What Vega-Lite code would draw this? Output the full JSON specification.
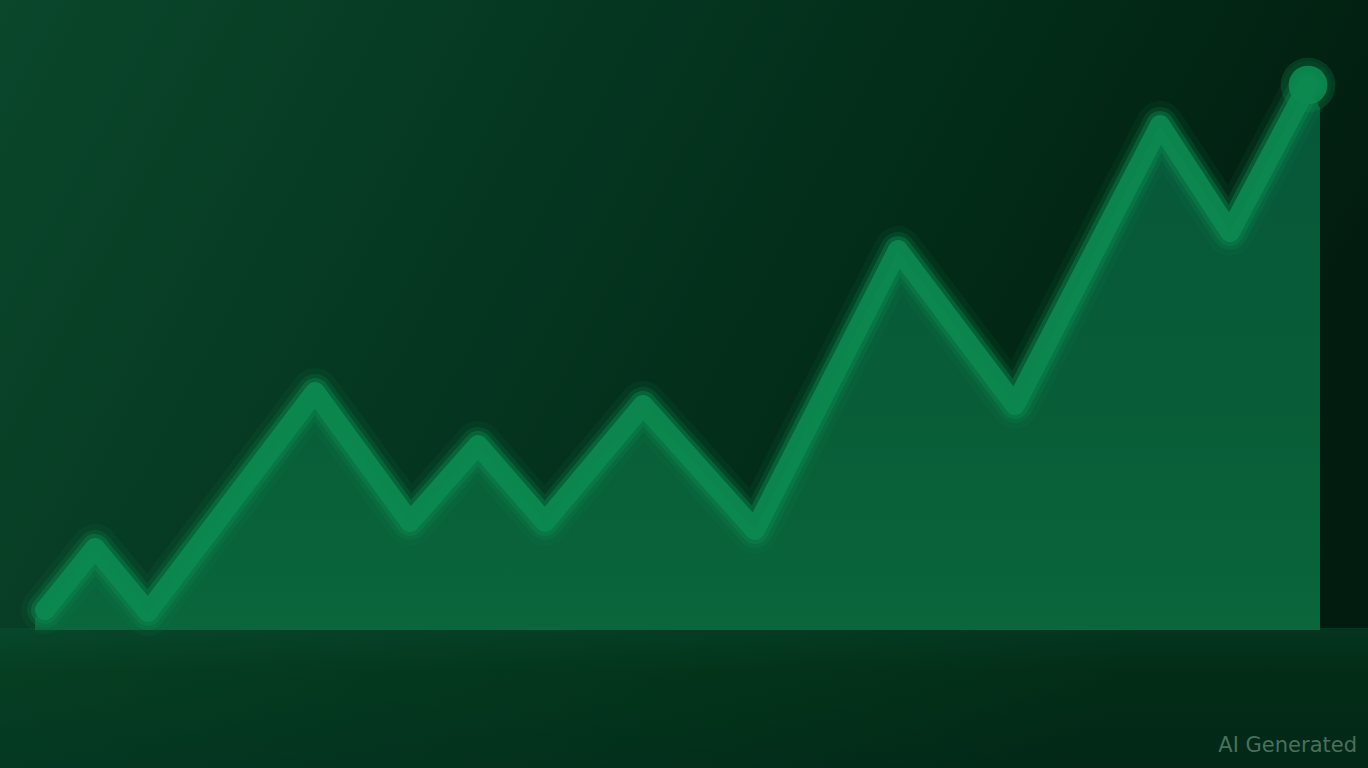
{
  "$schema": "https://vega.github.io/schema/vega-lite/v6.json",
  "width": 1368,
  "height": 768,
  "padding": 0,
  "autosize": {"type": "fit", "contains": "padding"},
  "background": "#03301c",
  "config": {"view": {"stroke": null}},
  "datasets": {
    "series": [
      {"t": 45, "v": 158},
      {"t": 95, "v": 220},
      {"t": 148, "v": 156},
      {"t": 315, "v": 376},
      {"t": 410, "v": 246},
      {"t": 478, "v": 323},
      {"t": 545, "v": 246},
      {"t": 643, "v": 363},
      {"t": 755, "v": 238},
      {"t": 898, "v": 518},
      {"t": 1015, "v": 363},
      {"t": 1160, "v": 643},
      {"t": 1230, "v": 536},
      {"t": 1308, "v": 683}
    ],
    "fill": [
      {"t": 35, "v": 150},
      {"t": 95, "v": 220},
      {"t": 148, "v": 156},
      {"t": 315, "v": 376},
      {"t": 410, "v": 246},
      {"t": 478, "v": 323},
      {"t": 545, "v": 246},
      {"t": 643, "v": 363},
      {"t": 755, "v": 238},
      {"t": 898, "v": 518},
      {"t": 1015, "v": 363},
      {"t": 1160, "v": 643},
      {"t": 1230, "v": 536},
      {"t": 1308, "v": 683},
      {"t": 1320, "v": 660}
    ],
    "backdrop": [
      {"t": 0, "v": 768},
      {"t": 1368, "v": 768}
    ],
    "floor": [
      {"t": 0, "v": 140},
      {"t": 1368, "v": 140}
    ],
    "last": [{"t": 1308, "v": 683}],
    "label": [{"t": 1357, "v": 22, "text": "AI Generated"}]
  },
  "layer": [
    {
      "data": {"name": "backdrop"},
      "mark": {
        "type": "area",
        "color": {
          "x1": 0, "y1": 0, "x2": 1, "y2": 0.3,
          "gradient": "linear",
          "stops": [
            {"offset": 0, "color": "#0a472b"},
            {"offset": 0.5, "color": "#04331e"},
            {"offset": 0.75, "color": "#022a16"},
            {"offset": 1, "color": "#021d10"}
          ]
        }
      },
      "encoding": {
        "x": {"field": "t", "type": "quantitative", "scale": {"domain": [0, 1368], "nice": false, "zero": false}, "axis": null},
        "y": {"field": "v", "type": "quantitative", "scale": {"domain": [0, 768], "nice": false, "zero": false}, "axis": null},
        "y2": {"datum": 0}
      }
    },
    {
      "data": {"name": "floor"},
      "mark": {
        "type": "area",
        "color": {
          "x1": 0, "y1": 0, "x2": 0, "y2": 1,
          "gradient": "linear",
          "stops": [
            {"offset": 0, "color": "#075233"},
            {"offset": 0.3, "color": "#04401f"},
            {"offset": 1, "color": "#033420"}
          ]
        },
        "opacity": 0.45
      },
      "encoding": {
        "x": {"field": "t", "type": "quantitative", "scale": {"domain": [0, 1368], "nice": false, "zero": false}, "axis": null},
        "y": {"field": "v", "type": "quantitative", "scale": {"domain": [0, 768], "nice": false, "zero": false}, "axis": null},
        "y2": {"datum": 0}
      }
    },
    {
      "data": {"name": "fill"},
      "mark": {
        "type": "area",
        "color": {
          "x1": 0, "y1": 0, "x2": 0, "y2": 1,
          "gradient": "linear",
          "stops": [
            {"offset": 0, "color": "#07573a"},
            {"offset": 0.6, "color": "#085d37"},
            {"offset": 1, "color": "#0a663c"}
          ]
        }
      },
      "encoding": {
        "x": {"field": "t", "type": "quantitative", "scale": {"domain": [0, 1368], "nice": false, "zero": false}, "axis": null},
        "y": {"field": "v", "type": "quantitative", "scale": {"domain": [0, 768], "nice": false, "zero": false}, "axis": null},
        "y2": {"datum": 138}
      }
    },
    {
      "data": {"name": "series"},
      "mark": {"type": "line", "color": "#0b8a50", "strokeWidth": 48, "opacity": 0.1, "strokeJoin": "round", "strokeCap": "round"},
      "encoding": {
        "x": {"field": "t", "type": "quantitative"},
        "y": {"field": "v", "type": "quantitative"}
      }
    },
    {
      "data": {"name": "series"},
      "mark": {"type": "line", "color": "#0b8a50", "strokeWidth": 36, "opacity": 0.2, "strokeJoin": "round", "strokeCap": "round"},
      "encoding": {
        "x": {"field": "t", "type": "quantitative"},
        "y": {"field": "v", "type": "quantitative"}
      }
    },
    {
      "data": {"name": "series"},
      "mark": {"type": "line", "color": "#0b8a50", "strokeWidth": 28, "opacity": 0.4, "strokeJoin": "round", "strokeCap": "round"},
      "encoding": {
        "x": {"field": "t", "type": "quantitative"},
        "y": {"field": "v", "type": "quantitative"}
      }
    },
    {
      "data": {"name": "series"},
      "mark": {"type": "line", "color": "#0c8a50", "strokeWidth": 20, "opacity": 0.9, "strokeJoin": "round", "strokeCap": "round"},
      "encoding": {
        "x": {"field": "t", "type": "quantitative"},
        "y": {"field": "v", "type": "quantitative"}
      }
    },
    {
      "data": {"name": "last"},
      "mark": {"type": "circle", "color": "#0c8a50", "opacity": 0.25, "size": 3000},
      "encoding": {
        "x": {"field": "t", "type": "quantitative"},
        "y": {"field": "v", "type": "quantitative"}
      }
    },
    {
      "data": {"name": "last"},
      "mark": {"type": "circle", "color": "#0c8a50", "opacity": 0.9, "size": 1500},
      "encoding": {
        "x": {"field": "t", "type": "quantitative"},
        "y": {"field": "v", "type": "quantitative"}
      }
    },
    {
      "data": {"name": "label"},
      "mark": {"type": "text", "align": "right", "baseline": "middle", "font": "DejaVu Sans", "fontSize": 21, "color": "#4a705c"},
      "encoding": {
        "x": {"field": "t", "type": "quantitative"},
        "y": {"field": "v", "type": "quantitative"},
        "text": {"field": "text", "type": "nominal"}
      }
    }
  ]
}
